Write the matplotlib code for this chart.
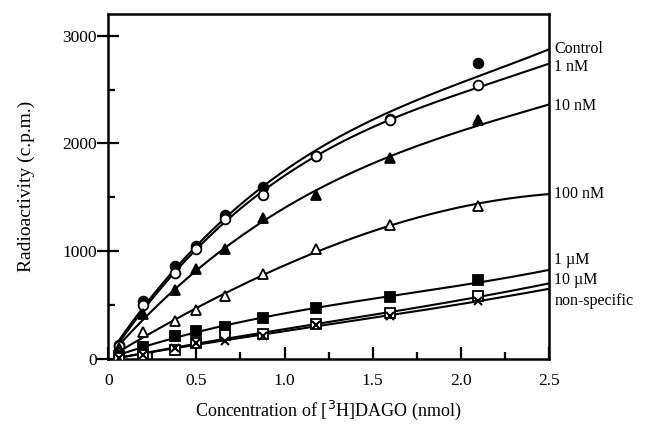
import numpy as np
import matplotlib
matplotlib.use("Agg")
import matplotlib.pyplot as plt
from matplotlib.ticker import MultipleLocator

plt.rcParams['font.family'] = ['Liberation Serif', 'DejaVu Serif']

# concentration of [3H]DAGO (nmol)
conc = [0.06, 0.2, 0.38, 0.5, 0.66, 0.88, 1.18, 1.6, 2.1]

# bound radioactivity (c.p.m.) per condition
control = [130, 540, 860, 1050, 1340, 1600, 1880, 2230, 2750]
nm1 = [120, 500, 800, 1020, 1300, 1520, 1880, 2220, 2540]
nm10 = [100, 420, 640, 830, 1020, 1310, 1520, 1860, 2220]
nm100 = [60, 250, 350, 450, 580, 790, 1020, 1240, 1420]
um1 = [30, 110, 210, 260, 300, 380, 470, 570, 730]
um10 = [10, 40, 80, 150, 220, 230, 320, 430, 580]
nonspec = [5, 40, 100, 150, 170, 210, 310, 400, 540]

# fitted curve values at x = 2.5
curve_end = [2870, 2740, 2360, 1530, 825, 700, 650]

labels = ['Control', '1 nM', '10 nM', '100 nM', '1 \u00b5M', '10 \u00b5M', 'non-specific']
label_y = [2880, 2710, 2350, 1530, 920, 730, 540]

series = [control, nm1, nm10, nm100, um1, um10, nonspec]
markers = [('o', 'black'), ('o', 'white'), ('^', 'black'), ('^', 'white'),
           ('s', 'black'), ('s', 'white'), ('x', 'black')]

fig = plt.figure(figsize=(6.52, 4.43), dpi=100)
ax = fig.add_axes([0.166, 0.19, 0.676, 0.778])

xs = np.linspace(0.04, 2.5, 200)
for vals, end, (m, fc), lab, ly in zip(series, curve_end, markers, labels, label_y):
    fx = np.array(conc + [0.0, 2.5])
    fy = np.array(vals + [0.0, end])
    w = np.ones(len(fx))
    w[-1] = 4
    p = np.polyfit(fx, fy, 3, w=w)
    ax.plot(xs, np.polyval(p, xs), color='black', lw=1.5, zorder=2)
    if m == 'x':
        ax.plot(conc, vals, ls='none', marker=m, ms=6, mew=1.5, color='black', zorder=3)
    else:
        ax.plot(conc, vals, ls='none', marker=m, ms=7, mfc=fc, mec='black', mew=1.3, zorder=3)
    ax.text(2.53, ly, lab, fontsize=11.5, va='center', ha='left', clip_on=False)

ax.set_xlim(0, 2.5)
ax.set_ylim(0, 3200)
ax.xaxis.set_minor_locator(MultipleLocator(0.25))
ax.yaxis.set_minor_locator(MultipleLocator(500))
ax.set_xticks([0, 0.5, 1.0, 1.5, 2.0, 2.5])
ax.set_xticklabels(['0', '0.5', '1.0', '1.5', '2.0', '2.5'])
ax.set_yticks([0, 1000, 2000, 3000])
ax.set_yticklabels(['0', '1000', '2000', '3000'])
ax.tick_params(which='both', direction='in', width=1.6, labelsize=12.5, top=False, right=False)
ax.tick_params(axis='x', which='major', length=9, pad=10)
ax.tick_params(axis='x', which='minor', length=5)
ax.tick_params(axis='y', which='major', direction='inout', length=16, pad=0)
ax.tick_params(axis='y', which='minor', length=5)
for s in ax.spines.values():
    s.set_linewidth(1.8)

ax.set_xlabel('Concentration of [$^3$H]DAGO (nmol)', fontsize=13, labelpad=7)
ax.set_ylabel('Radioactivity (c.p.m.)', fontsize=14, labelpad=20)

fig.savefig('out.png', dpi=100)
